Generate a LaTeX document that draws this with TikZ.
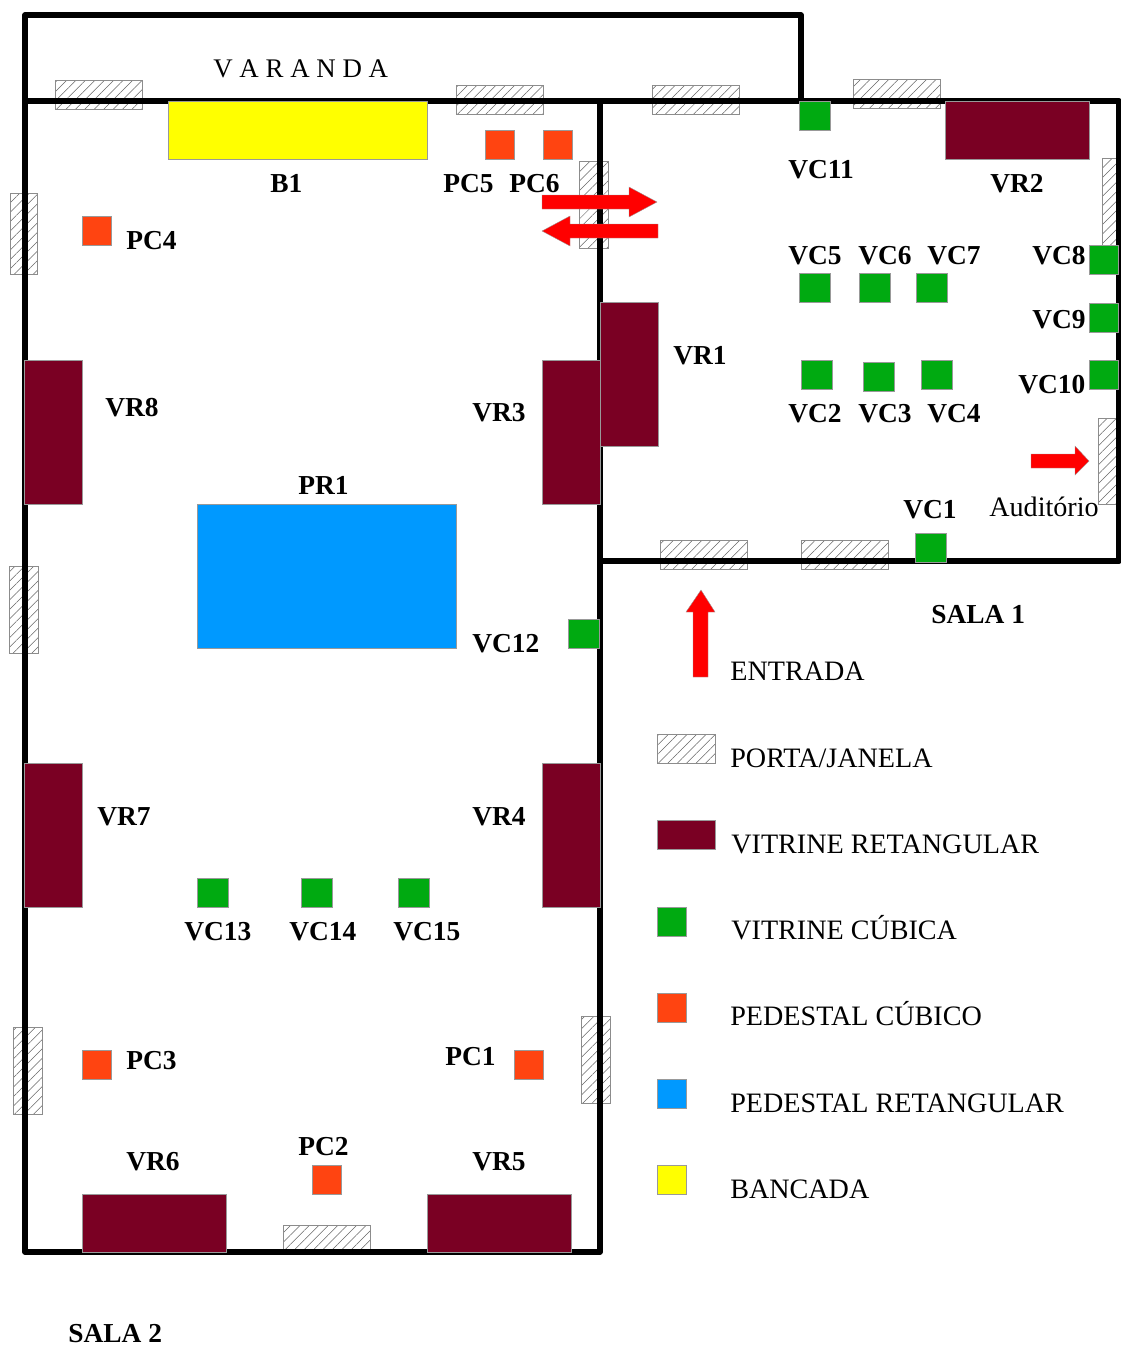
\documentclass[tikz,border=0pt]{standalone}
\usepackage{fontspec}
\setmainfont{Liberation Serif}
\usetikzlibrary{patterns.meta}

\definecolor{vrcolor}{RGB}{122,0,35}
\definecolor{vccolor}{RGB}{0,170,17}
\definecolor{pccolor}{RGB}{255,68,17}
\definecolor{prcolor}{RGB}{0,153,255}
\definecolor{bcolor}{RGB}{255,255,0}

\tikzset{
  box/.style={draw=black!40, line width=0.2pt, inner sep=0pt, outer sep=0pt},
  hatch/.style={box, draw=black!45, line width=0.3pt, pattern={Lines[angle=45,distance=3.8pt,line width=0.3pt]}, pattern color=black!60},
  hatchh/.style={hatch, minimum width=1.74cm, minimum height=0.58cm},
  hatchv/.style={hatch, minimum width=0.58cm, minimum height=1.74cm},
  vrh/.style={box, fill=vrcolor, minimum width=2.88cm, minimum height=1.16cm},
  vrv/.style={box, fill=vrcolor, minimum width=1.16cm, minimum height=2.88cm},
  vc/.style={box, fill=vccolor, minimum width=0.62cm, minimum height=0.58cm},
  pc/.style={box, fill=pccolor, minimum width=0.58cm, minimum height=0.58cm},
  wall/.style={line width=3.2pt, line join=round, line cap=round},
  redarrow/.style={fill=red, draw=black!40, line width=0.2pt},
  lbl/.style={anchor=base west, inner sep=0pt, font=\fontsize{15.6}{18}\selectfont\bfseries},
  txt/.style={anchor=base west, inner sep=0pt, font=\fontsize{16}{18}\selectfont}
}

\begin{document}
\begin{tikzpicture}[x=0.02cm, y=-0.02cm]
\useasboundingbox (0,0) rectangle (1120,1346);

% Doors and windows
\node[hatchh] (h1) at (99,95) {};
\node[hatchh] (h2) at (499.5,99.5) {};
\node[hatchh] (h3) at (695.5,99.5) {};
\node[hatchh] (h4) at (896.5,94) {};
\node[hatchh] (h5) at (703.5,555) {};
\node[hatchh] (h6) at (844.5,555) {};
\node[hatchh] (h7) at (326.5,1240) {};
\node[hatchv, minimum width=0.54cm, minimum height=1.62cm] (h8) at (23.5,233.5) {};
\node[hatchv] (h9) at (23.5,610) {};
\node[hatchv] (h10) at (28,1070.5) {};
\node[hatchv] (h11) at (595.5,1059.5) {};
\node[hatchv] (h12) at (593.5,204.5) {};
\node[hatchv, minimum width=0.28cm] (h13) at (1109,201.5) {};
\node[hatchv, minimum width=0.36cm, minimum height=1.72cm] (h14) at (1107,461) {};

% Walls
\draw[wall] (25,101) -- (25,15) -- (801,15) -- (801,101);
\draw[wall] (25,101) -- (1119,101) -- (1119,561) -- (600,561);
\draw[wall] (600,101) -- (600,1252) -- (25,1252) -- (25,101);

% Rectangular showcases
\node[vrv] (vr1) at (629.5,374) {};
\node[vrh] (vr2) at (1017,130) {};
\node[vrv] (vr3) at (571.5,432) {};
\node[vrv] (vr4) at (571.5,835) {};
\node[vrh] (vr5) at (499,1223) {};
\node[vrh] (vr6) at (154,1223) {};
\node[vrv] (vr7) at (53,835) {};
\node[vrv] (vr8) at (53,432) {};

% Bench and rectangular pedestal
\node[box, fill=bcolor, minimum width=5.18cm, minimum height=1.16cm] (b1) at (297.5,130) {};
\node[box, fill=prcolor, minimum width=5.18cm, minimum height=2.88cm] (pr1) at (326.5,576) {};

% Cubic pedestals
\node[pc] (pc1) at (528.5,1064.5) {};
\node[pc] (pc2) at (326.5,1179.5) {};
\node[pc] (pc3) at (96.5,1064.5) {};
\node[pc] (pc4) at (96.5,230.5) {};
\node[pc] (pc5) at (499.5,144.5) {};
\node[pc] (pc6) at (557.5,144.5) {};

% Cubic showcases
\node[vc] (vc1) at (930.5,547.5) {};
\node[vc] (vc2) at (817,374.5) {};
\node[vc] (vc3) at (879,376.5) {};
\node[vc] (vc4) at (936.5,374.5) {};
\node[vc] (vc5) at (814.5,288) {};
\node[vc] (vc6) at (874.5,288) {};
\node[vc] (vc7) at (931.5,288) {};
\node[vc, minimum width=0.58cm] (vc8) at (1103.5,259.5) {};
\node[vc, minimum width=0.58cm] (vc9) at (1103.5,317.5) {};
\node[vc, minimum width=0.58cm] (vc10) at (1103.5,374.5) {};
\node[vc] (vc11) at (814.5,115.5) {};
\node[vc] (vc12) at (584,633.5) {};
\node[vc] (vc13) at (212.5,892.5) {};
\node[vc] (vc14) at (317,892.5) {};
\node[vc] (vc15) at (414,892.5) {};

% Arrows
\draw[redarrow] (542,195) -- (629,195) -- (629,187) -- (657,202) -- (629,217) -- (629,209) -- (542,209) -- cycle;
\draw[redarrow] (658,224) -- (570,224) -- (570,216) -- (542,231) -- (570,246) -- (570,238) -- (658,238) -- cycle;
\draw[redarrow] (693,677) -- (693,612) -- (686,612) -- (701,590) -- (715,612) -- (708,612) -- (708,677) -- cycle;
\draw[redarrow] (1031,454) -- (1075,454) -- (1075,446) -- (1089,461) -- (1075,475) -- (1075,468) -- (1031,468) -- cycle;

% Labels
\node[txt, font=\fontsize{15.3}{18}\selectfont] (varanda) at (213,77) {V A R A N D A};
\node[lbl] (lb1) at (270,192) {B1};
\node[lbl] (lpc5) at (443,192) {PC5};
\node[lbl] (lpc6) at (509,192) {PC6};
\node[lbl] (lpc4) at (126,249) {PC4};
\node[lbl] (lvc11) at (788,178) {VC11};
\node[lbl] (lvr2) at (990,192) {VR2};
\node[lbl] (lvc5) at (788,264) {VC5};
\node[lbl] (lvc6) at (858,264) {VC6};
\node[lbl] (lvc7) at (927,264) {VC7};
\node[lbl] (lvc8) at (1032,264) {VC8};
\node[lbl] (lvc9) at (1032,328) {VC9};
\node[lbl] (lvc10) at (1018,393) {VC10};
\node[lbl] (lvr1) at (673,364) {VR1};
\node[lbl] (lvr8) at (105,416) {VR8};
\node[lbl] (lvr3) at (472,421) {VR3};
\node[lbl] (lpr1) at (298,494) {PR1};
\node[lbl] (lvc2) at (788,422) {VC2};
\node[lbl] (lvc3) at (858,422) {VC3};
\node[lbl] (lvc4) at (927,422) {VC4};
\node[lbl] (lvc1) at (903,518) {VC1};
\node[txt] (laud) at (989,516) {Auditório};
\node[lbl] (lsala1) at (931,623) {SALA 1};
\node[lbl] (lvc12) at (472,652) {VC12};
\node[lbl] (lvr7) at (97,825) {VR7};
\node[lbl] (lvr4) at (472,825) {VR4};
\node[lbl] (lvc13) at (184,940) {VC13};
\node[lbl] (lvc14) at (289,940) {VC14};
\node[lbl] (lvc15) at (393,940) {VC15};
\node[lbl] (lpc3) at (126,1069) {PC3};
\node[lbl] (lpc1) at (445,1065) {PC1};
\node[lbl] (lpc2) at (298,1155) {PC2};
\node[lbl] (lvr6) at (126,1170) {VR6};
\node[lbl] (lvr5) at (472,1170) {VR5};
\node[lbl] (lsala2) at (68,1342) {SALA 2};

% Legend
\node[hatchh, minimum width=1.16cm] (kh) at (686,748.5) {};
\node[vrh, minimum width=1.16cm, minimum height=0.58cm] (kvr) at (686,834.5) {};
\node[pc, fill=vccolor] (kvc) at (671.5,921.5) {};
\node[pc] (kpc) at (671.5,1007.5) {};
\node[pc, fill=prcolor] (kpr) at (671.5,1093.5) {};
\node[pc, fill=bcolor] (kb) at (671.5,1179.5) {};
\node[txt] (tent) at (730,680) {ENTRADA};
\node[txt] (th) at (730,767) {PORTA/JANELA};
\node[txt] (tvr) at (731,853) {VITRINE RETANGULAR};
\node[txt] (tvc) at (731,939) {VITRINE CÚBICA};
\node[txt] (tpc) at (730,1025) {PEDESTAL CÚBICO};
\node[txt] (tpr) at (730,1112) {PEDESTAL RETANGULAR};
\node[txt] (tb) at (730,1198) {BANCADA};
\end{tikzpicture}
\end{document}
